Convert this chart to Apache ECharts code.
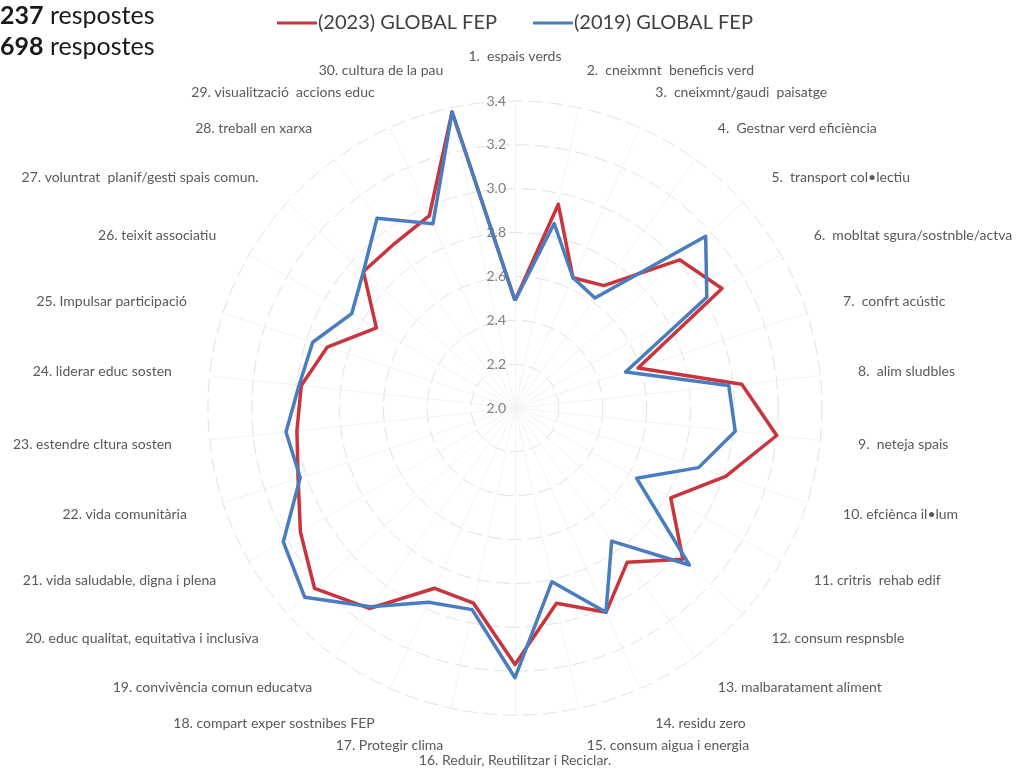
<!DOCTYPE html>
<html>
<head>
<meta charset="utf-8" />
<title>Radar FEP 2023 / 2019</title>
<script src="https://cdn.jsdelivr.net/npm/echarts@6/dist/echarts.min.js"></script>
<style>
  body { margin: 0; background: #ffffff; }
  #main { width: 1025px; height: 773px; }
</style>
</head>
<body>
<div id="main"></div>
<script>
// categories, clockwise from the top
var categories = [
  '1.  espais verds',
  '2.  cneixmnt  beneficis verd',
  '3.  cneixmnt/gaudi  paisatge',
  '4.  Gestnar verd eficiència',
  '5.  transport col•lectiu',
  '6.  mobltat sgura/sostnble/actva',
  '7.  confrt acústic',
  '8.  alim sludbles',
  '9.  neteja spais',
  '10. efciènca il•lum',
  '11. critris  rehab edif',
  '12. consum respnsble',
  '13. malbaratament aliment',
  '14. residu zero',
  '15. consum aigua i energia',
  '16. Reduir, Reutilitzar i Reciclar.',
  '17. Protegir clima',
  '18. compart exper sostnibes FEP',
  '19. convivència comun educatva',
  '20. educ qualitat, equitativa i inclusiva',
  '21. vida saludable, digna i plena',
  '22. vida comunitària',
  '23. estendre cltura sosten',
  '24. liderar educ sosten',
  '25. Impulsar participació',
  '26. teixit associatiu',
  '27. voluntrat  planif/gesti spais comun.',
  '28. treball en xarxa',
  '29. visualització  accions educ',
  '30. cultura de la pau'
];

var seriesNames = ['(2023) GLOBAL FEP', '(2019) GLOBAL FEP'];

var values2023 = [2.49, 2.95, 2.65, 2.69, 3.01, 3.09, 2.59, 3.04, 3.20, 3.01,
                  2.82, 3.03, 2.87, 3.02, 2.91, 3.17, 2.91, 2.90, 3.13, 3.23,
                  3.13, 3.04, 3.00, 2.98, 2.90, 2.73, 2.93, 2.93, 2.96, 3.38];

var values2019 = [2.49, 2.86, 2.65, 2.62, 3.17, 3.01, 2.53, 2.98, 3.01, 2.88,
                  2.64, 3.07, 2.75, 3.02, 2.81, 3.23, 2.94, 2.97, 3.12, 3.29,
                  3.22, 3.03, 3.05, 2.99, 2.97, 2.86, 2.93, 3.07, 2.92, 3.38];

// radial axis ticks
var axisTicks = [2.0, 2.2, 2.4, 2.6, 2.8, 3.0, 3.2, 3.4];

var respostes = [237, 698];

// echarts lays radar indicators out counter-clockwise, so flip the order
var n = categories.length;
var order = categories.map(function (c, i) { return i === 0 ? 0 : n - i; });

var indicator = order.map(function (k, j) {
  var ind = {
    name: categories[k],
    min: axisTicks[0],
    max: axisTicks[axisTicks.length - 1]
  };
  if (j === 0) {
    // value labels only along the top axis
    ind.axisLabel = {
      show: true,
      color: '#7f7f7f',
      fontSize: 14,
      fontFamily: 'Lato',
      margin: 9,
      formatter: function (v) { return v.toFixed(1); }
    };
  }
  return ind;
});

var colors = ['#c9343d', '#4a7dbf'];

var myChart = echarts.init(document.getElementById('main'));
var option = {
  backgroundColor: '#ffffff',
  animation: false,
  legend: {
    left: 272,
    top: 8,
    itemWidth: 40,
    itemHeight: 3,
    itemGap: 36,
    icon: 'rect',
    textStyle: {
      color: '#404040',
      fontSize: 20,
      fontFamily: 'Lato',
      padding: [0, 0, 0, -4]
    },
    data: seriesNames
  },
  graphic: [{
    type: 'text',
    left: 0,
    top: 3,
    style: {
      text: '{b|' + respostes[0] + '} respostes',
      fontSize: 25,
      fontFamily: 'Lato',
      fill: '#1a1a1a',
      rich: { b: { fontSize: 25, fontWeight: 'bold', fontFamily: 'Lato', fill: '#1a1a1a' } }
    }
  }, {
    type: 'text',
    left: 0,
    top: 34,
    style: {
      text: '{b|' + respostes[1] + '} respostes',
      fontSize: 25,
      fontFamily: 'Lato',
      fill: '#1a1a1a',
      rich: { b: { fontSize: 25, fontWeight: 'bold', fontFamily: 'Lato', fill: '#1a1a1a' } }
    }
  }],
  radar: {
    center: [515, 408],
    radius: 307,
    startAngle: 90,
    shape: 'circle',
    splitNumber: axisTicks.length - 1,
    nameGap: 38,
    axisName: {
      color: '#595959',
      fontSize: 14,
      fontFamily: 'Lato'
    },
    axisLine: { lineStyle: { color: '#f3f3f3', width: 1 } },
    splitLine: { lineStyle: { color: '#e2e2e2', width: 1, type: [14, 6] } },
    splitArea: { show: false },
    axisTick: { show: false },
    axisLabel: { show: false },
    indicator: indicator
  },
  series: [{
    type: 'radar',
    symbol: 'none',
    data: [{
      name: seriesNames[0],
      value: order.map(function (k) { return values2023[k]; }),
      itemStyle: { color: colors[0] },
      lineStyle: { color: colors[0], width: 3.5 }
    }, {
      name: seriesNames[1],
      value: order.map(function (k) { return values2019[k]; }),
      itemStyle: { color: colors[1] },
      lineStyle: { color: colors[1], width: 3.5 }
    }]
  }]
};
myChart.setOption(option);
</script>
</body>
</html>
